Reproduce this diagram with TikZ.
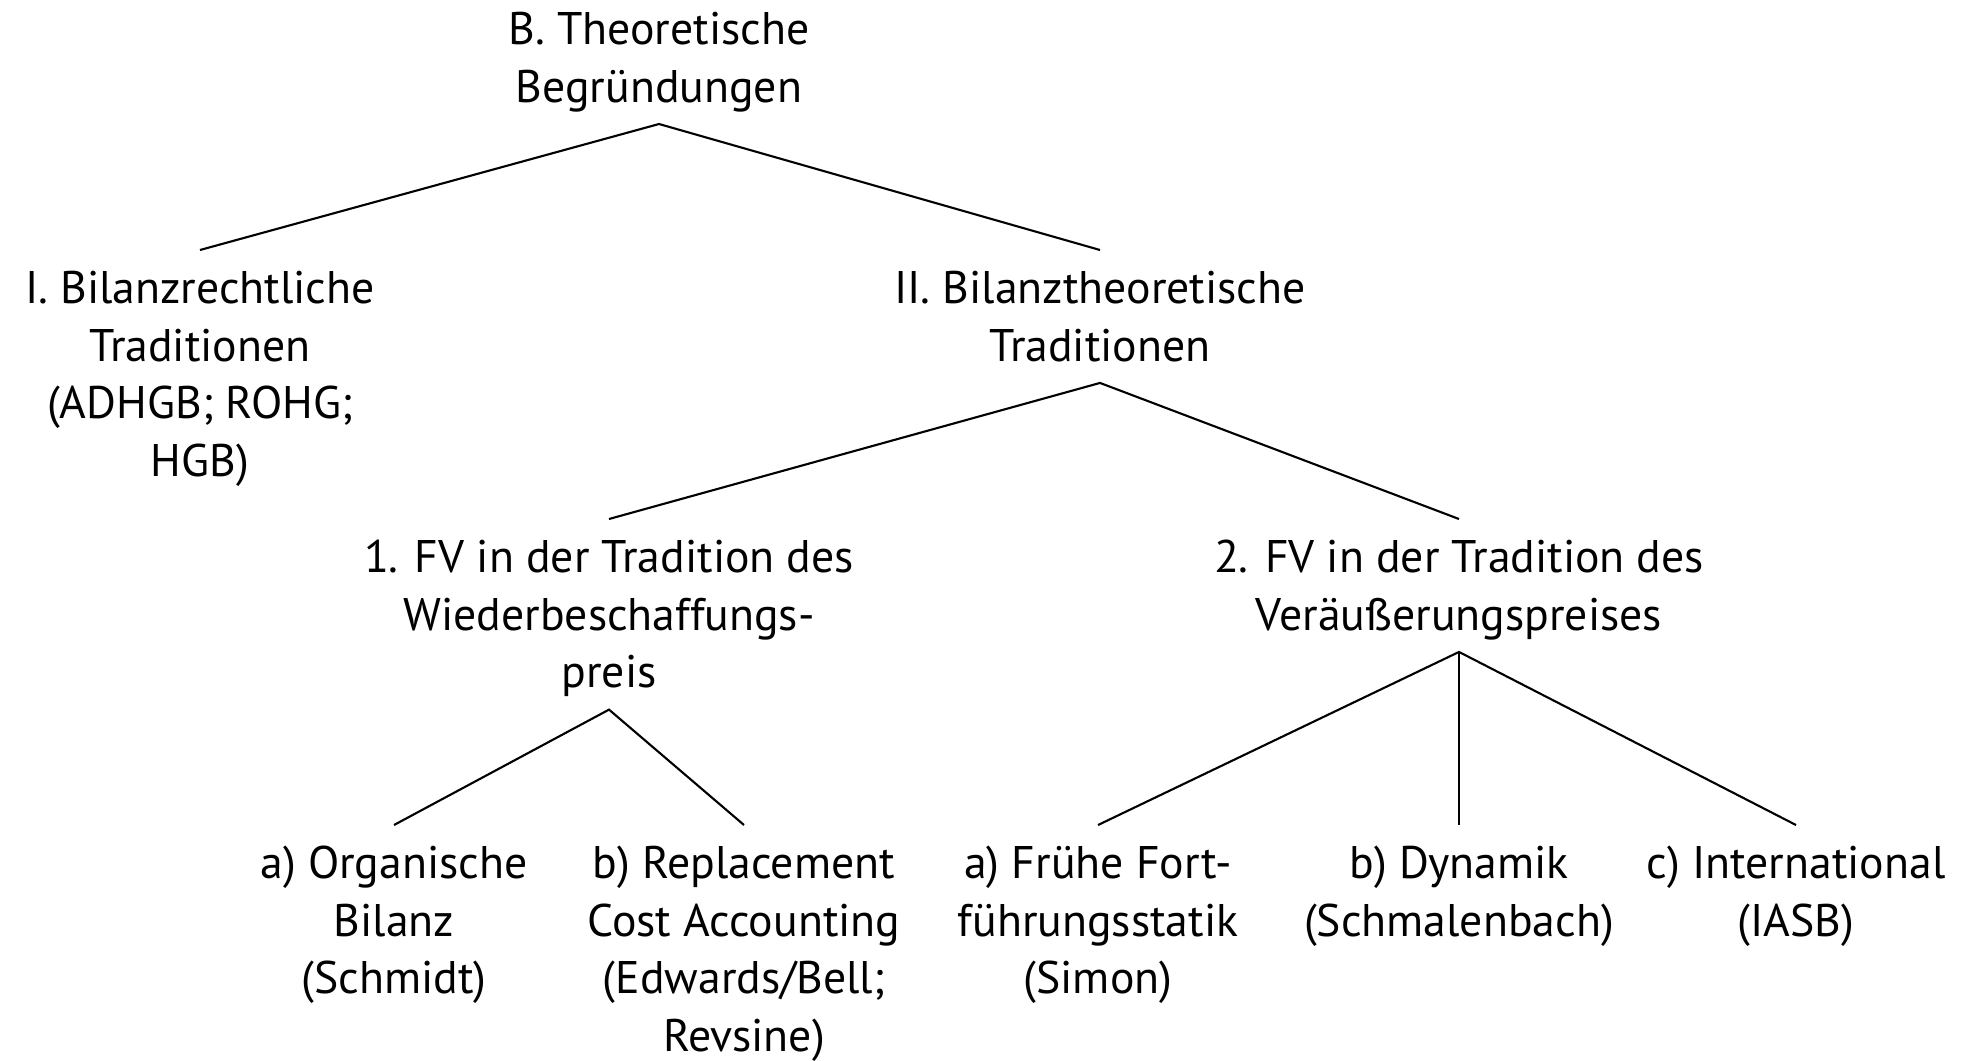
\documentclass[tikz,border=0pt]{standalone}
\usepackage{fontspec}
\setmainfont{PT Sans}
\newcommand{\kopf}{\rule{0pt}{15pt}}
\newcommand{\fuss}{\rule[-6pt]{0pt}{6pt}}
\begin{document}
\begin{tikzpicture}[x=0.01cm,y=-0.01cm,
    stufe/.style={align=center,inner xsep=0pt,inner ysep=0pt,font=\fontsize{13}{16.4}\selectfont},
    ast/.style={line width=0.6pt}]
\useasboundingbox (0,0) rectangle (1961,1060);
\node [stufe,anchor=south] (B) at (659,124) {\kopf B. Theoretische\\Begründungen\fuss};
\node [stufe,anchor=north] (BI) at (200,250) {\kopf I. Bilanzrechtliche\\Traditionen\\(ADHGB; ROHG;\\HGB)\fuss};
\node [stufe,anchor=north] (BII) at (1100,250) {\kopf II. Bilanztheoretische\\Traditionen\fuss};
\node [stufe,anchor=north] (FV1) at (609,519) {\kopf 1. FV in der Tradition des\\Wiederbeschaffungs-\\preis\fuss};
\node [stufe,anchor=north] (FV2) at (1459,519) {\kopf 2. FV in der Tradition des\\Veräußerungspreises\fuss};
\node [stufe,anchor=north] (FV1a) at (394,825) {\kopf a) Organische\\Bilanz\\(Schmidt)\fuss};
\node [stufe,anchor=north] (FV1b) at (744,825) {\kopf b) Replacement\\Cost Accounting\\(Edwards/Bell;\\Revsine)\fuss};
\node [stufe,anchor=north] (FV2a) at (1098,825) {\kopf a) Frühe Fort-\\führungsstatik\\(Simon)\fuss};
\node [stufe,anchor=north] (FV2b) at (1459,825) {\kopf b) Dynamik\\(Schmalenbach)\fuss};
\node [stufe,anchor=north] (FV2c) at (1796,825) {\kopf c) International\\(IASB)\fuss};
\draw [ast] (BI.north)--(B.south)--(BII.north);
\draw [ast] (FV1.north)--(BII.south)--(FV2.north);
\draw [ast] (FV1a.north)--(FV1.south)--(FV1b.north);
\draw [ast] (FV2a.north)--(FV2.south)--(FV2c.north);
\draw [ast] (FV2.south)--(FV2b.north);
\end{tikzpicture}
\end{document}
